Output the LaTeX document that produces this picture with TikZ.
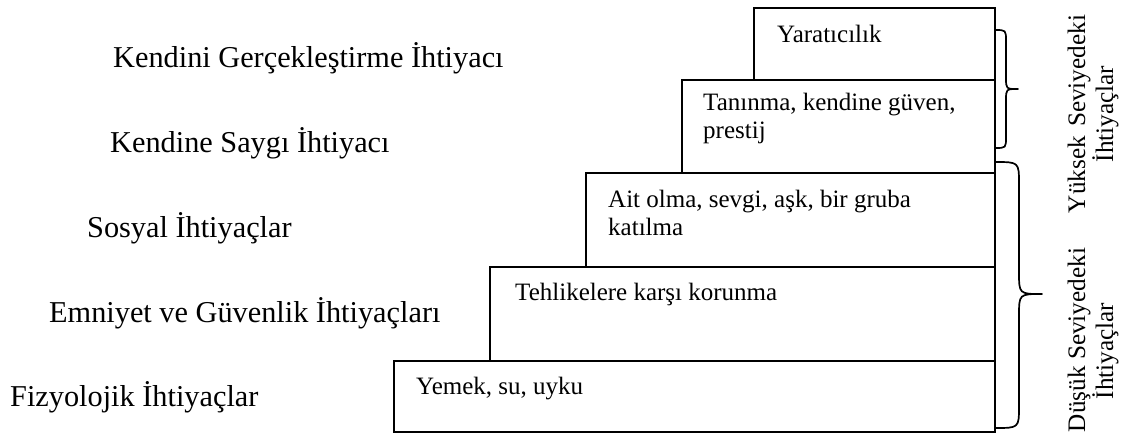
\documentclass[tikz,border=0pt]{standalone}
\usepackage{fontspec}
\setmainfont{Liberation Serif}
\begin{document}
\begin{tikzpicture}[x=1pt,y=-1pt,
  level/.style={draw=black,line width=1.8pt},
  needlabel/.style={anchor=base west,inner sep=0pt,font=\fontsize{30.3}{36}\selectfont},
  boxtext/.style={anchor=base west,inner sep=0pt,align=left,font=\fontsize{25}{28}\selectfont},
  grouplabel/.style={rotate=90,inner sep=0pt,align=center,font=\fontsize{25.2}{28}\selectfont},
  bracket/.style={draw=black,line width=1.7pt,line join=round}]
\useasboundingbox (0,0) rectangle (1121,434);

% stair of need levels, bottom to top
\draw[level] (394,361) rectangle (995,432);
\draw[level] (490,267) rectangle (995,361);
\draw[level] (586,173) rectangle (995,267);
\draw[level] (682,80) rectangle (995,173);
\draw[level] (754,8) rectangle (995,80);

% contents of each level (base anchor sits on the last line)
\node[boxtext] (b5) at (416,394) {Yemek, su, uyku};
\node[boxtext] (b4) at (515,300) {Tehlikelere karşı korunma};
\node[boxtext] (b3) at (608,235) {Ait olma, sevgi, aşk, bir gruba\\katılma};
\node[boxtext] (b2) at (703,138) {Tanınma, kendine güven,\\prestij};
\node[boxtext] (b1) at (777,42) {Yaratıcılık};

% names of the levels
\node[needlabel] (n1) at (113,67) {Kendini Gerçekleştirme İhtiyacı};
\node[needlabel] (n2) at (110,152) {Kendine Saygı İhtiyacı};
\node[needlabel] (n3) at (87,237) {Sosyal İhtiyaçlar};
\node[needlabel] (n4) at (49,322) {Emniyet ve Güvenlik İhtiyaçları};
\node[needlabel] (n5) at (10,406) {Fizyolojik İhtiyaçlar};

% upper bracket
\coordinate (ua) at (995,30);
\coordinate (ut) at (1018,89);
\coordinate (ub) at (995,148);
\draw[bracket] (ua) .. controls (1006,30) .. (1006,41) -- (1006,78)
  .. controls (1006,89) .. (ut) .. controls (1006,89) .. (1006,100)
  -- (1006,137) .. controls (1006,148) .. (ub);

% lower bracket
\coordinate (la) at (995,162);
\coordinate (lt) at (1042,294);
\coordinate (lb) at (995,428);
\draw[bracket] (la) .. controls (1019,162) .. (1019,184) -- (1019,272)
  .. controls (1019,294) .. (lt) .. controls (1019,294) .. (1019,316)
  -- (1019,406) .. controls (1019,428) .. (lb);

% group captions
\node[grouplabel] (gu) at (1093,114) {Yüksek\hspace{0.12em} Seviyedeki\\İhtiyaçlar};
\node[grouplabel] (gl) at (1093,340) {Düşük Seviyedeki\\İhtiyaçlar\kern22pt};
\end{tikzpicture}
\end{document}
